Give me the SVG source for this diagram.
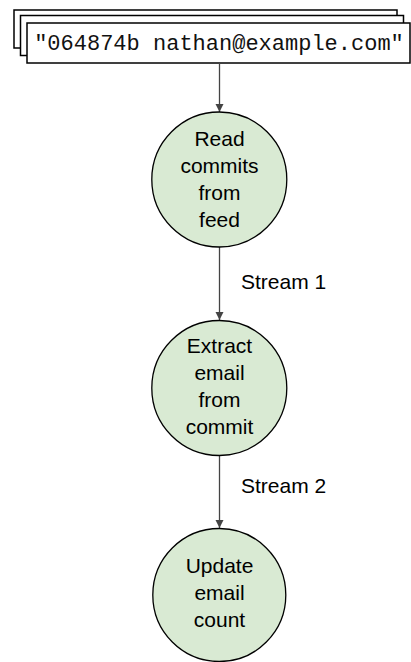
<svg xmlns="http://www.w3.org/2000/svg" width="411" height="662" viewBox="0 0 411 662">
<style>
.box{fill:#fff;stroke:#000;stroke-width:1.5}
.node{fill:#d9ead3;stroke:#000;stroke-width:1.3}
.t{font-family:"Liberation Sans",Arial,sans-serif;font-size:21px;fill:#000;text-anchor:middle}
.lbl{font-family:"Liberation Sans",Arial,sans-serif;font-size:21px;fill:#000}
.mono{font-family:"Liberation Mono","Courier New",monospace;font-size:22px;fill:#111;text-anchor:middle}
.edge{stroke:#444;stroke-width:1.3;fill:none;marker-end:url(#ah)}
</style>
<defs>
<marker id="ah" markerWidth="10" markerHeight="10" refX="8" refY="4" orient="auto" markerUnits="userSpaceOnUse">
<path d="M0,0 L8,4 L0,8 Z" fill="#444"/>
</marker>
</defs>
<g id="source">
<rect class="box" x="14" y="10" width="383" height="38"/>
<rect class="box" x="20.5" y="15.5" width="383" height="40"/>
<rect class="box" x="27" y="23" width="383" height="40"/>
<text class="mono" x="219" y="50">"064874b nathan@example.com"</text>
</g>
<g id="connectors">
<line class="edge" x1="219.5" y1="63" x2="219.5" y2="112"/>
<line class="edge" x1="219.5" y1="246" x2="219.5" y2="320"/>
<line class="edge" x1="219.5" y1="455" x2="219.5" y2="528"/>
<text class="lbl" x="241" y="289">Stream 1</text>
<text class="lbl" x="241" y="493">Stream 2</text>
</g>
<g id="read">
<circle class="node" cx="219.3" cy="179.5" r="67.5"/>
<text class="t" x="219.5" y="146">Read</text>
<text class="t" x="219.5" y="173">commits</text>
<text class="t" x="219.5" y="200">from</text>
<text class="t" x="219.5" y="227">feed</text>
</g>
<g id="extract">
<circle class="node" cx="219.3" cy="388" r="67.5"/>
<text class="t" x="219.5" y="353">Extract</text>
<text class="t" x="219.5" y="380">email</text>
<text class="t" x="219.5" y="407">from</text>
<text class="t" x="219.5" y="434">commit</text>
</g>
<g id="update">
<circle class="node" cx="219.3" cy="595" r="66.5"/>
<text class="t" x="219.5" y="573">Update</text>
<text class="t" x="219.5" y="600">email</text>
<text class="t" x="219.5" y="627">count</text>
</g>
</svg>
